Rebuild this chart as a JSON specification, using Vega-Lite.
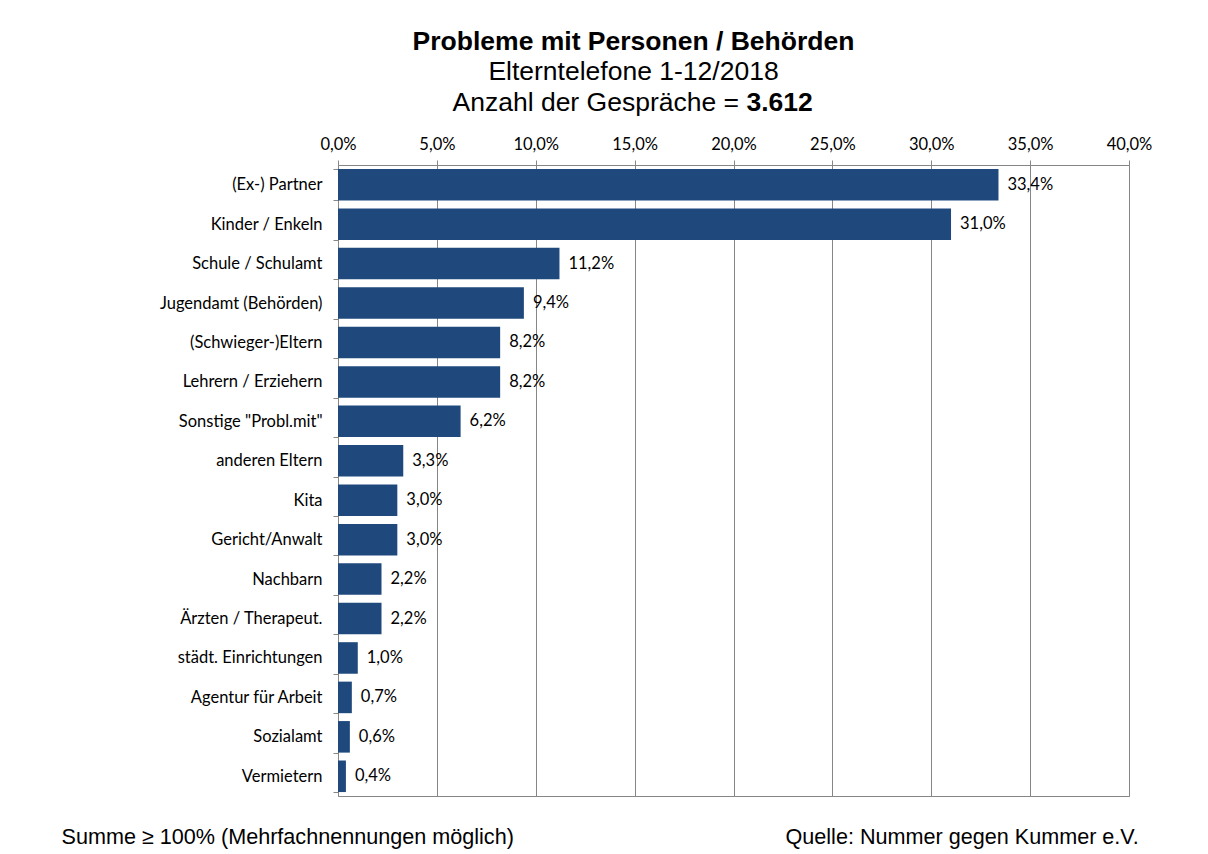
{
  "$schema": "https://vega.github.io/schema/vega-lite/v6.json",
  "width": 791,
  "height": 631,
  "autosize": {"type": "none"},
  "padding": {"left": 338, "top": 165, "right": 79, "bottom": 58},
  "background": "white",
  "title": {
    "text": "Probleme mit Personen / Behörden",
    "subtitle": "Elterntelefone 1-12/2018",
    "font": "Liberation Sans",
    "fontSize": 26.5,
    "fontWeight": "bold",
    "color": "black",
    "subtitleFont": "Liberation Sans",
    "subtitleFontSize": 26.5,
    "subtitleColor": "black",
    "subtitlePadding": 3,
    "anchor": "middle",
    "dx": -100,
    "offset": 4
  },
  "data": {
    "values": [
      {"kategorie": "(Ex-) Partner", "anteil": 0.334},
      {"kategorie": "Kinder / Enkeln", "anteil": 0.310},
      {"kategorie": "Schule / Schulamt", "anteil": 0.112},
      {"kategorie": "Jugendamt (Behörden)", "anteil": 0.094},
      {"kategorie": "(Schwieger-)Eltern", "anteil": 0.082},
      {"kategorie": "Lehrern / Erziehern", "anteil": 0.082},
      {"kategorie": "Sonstige \"Probl.mit\"", "anteil": 0.062},
      {"kategorie": "anderen Eltern", "anteil": 0.033},
      {"kategorie": "Kita", "anteil": 0.030},
      {"kategorie": "Gericht/Anwalt", "anteil": 0.030},
      {"kategorie": "Nachbarn", "anteil": 0.022},
      {"kategorie": "Ärzten / Therapeut.", "anteil": 0.022},
      {"kategorie": "städt. Einrichtungen", "anteil": 0.010},
      {"kategorie": "Agentur für Arbeit", "anteil": 0.007},
      {"kategorie": "Sozialamt", "anteil": 0.006},
      {"kategorie": "Vermietern", "anteil": 0.004}
    ]
  },
  "layer": [
    {
      "mark": {"type": "bar", "color": "#1F497D"},
      "encoding": {
        "y": {
          "field": "kategorie",
          "type": "nominal",
          "sort": null,
          "scale": {"paddingInner": 0.2, "paddingOuter": 0.1},
          "axis": {
            "orient": "left",
            "tickBand": "extent",
            "tickSize": 5,
            "tickColor": "#868686",
            "domain": false,
            "grid": false,
            "labelFont": "Lato",
            "labelFontSize": 16.5,
            "labelColor": "black",
            "labelPadding": 11,
            "title": "Summe ≥ 100% (Mehrfachnennungen möglich)",
            "titleAngle": 0,
            "titleX": -277,
            "titleY": 678,
            "titleAlign": "left",
            "titleBaseline": "alphabetic",
            "titleFont": "Liberation Sans",
            "titleFontSize": 21.6,
            "titleFontWeight": "normal",
            "titleColor": "black"
          }
        },
        "x": {
          "field": "anteil",
          "type": "quantitative",
          "scale": {"domain": [0, 0.4], "nice": false},
          "axis": {
            "orient": "top",
            "values": [0, 0.05, 0.1, 0.15, 0.2, 0.25, 0.3, 0.35, 0.4],
            "format": ".1%",
            "grid": true,
            "gridColor": "#868686",
            "tickColor": "#868686",
            "tickSize": 5,
            "domain": false,
            "labelFont": "Lato",
            "labelFontSize": 16.5,
            "labelColor": "black",
            "labelPadding": 8,
            "labelFlush": false,
            "title": "Anzahl der Gespräche = ",
            "titleFont": "Liberation Sans",
            "titleFontSize": 26.5,
            "titleFontWeight": "normal",
            "titleColor": "black",
            "titleX": 114,
            "titleY": -55,
            "titleAlign": "left",
            "titleBaseline": "alphabetic"
          }
        }
      }
    },
    {
      "mark": {"type": "text", "align": "left", "baseline": "middle", "dx": 9, "font": "Lato", "fontSize": 16.5, "color": "black"},
      "encoding": {
        "y": {
          "field": "kategorie",
          "type": "nominal",
          "sort": null,
          "scale": {"paddingInner": 0.2, "paddingOuter": 0.1},
          "axis": {
            "orient": "right",
            "labels": false,
            "ticks": false,
            "domain": false,
            "grid": false,
            "title": "Quelle: Nummer gegen Kummer e.V.",
            "titleAngle": 0,
            "titleX": -344,
            "titleY": 678,
            "titleAlign": "left",
            "titleBaseline": "alphabetic",
            "titleFont": "Liberation Sans",
            "titleFontSize": 21.6,
            "titleFontWeight": "normal",
            "titleColor": "black"
          }
        },
        "x": {
          "field": "anteil",
          "type": "quantitative",
          "scale": {"domain": [0, 0.4], "nice": false},
          "axis": {
            "orient": "bottom",
            "labels": false,
            "ticks": false,
            "domain": false,
            "grid": false,
            "title": "3.612",
            "titleFont": "Liberation Sans",
            "titleFontSize": 26.5,
            "titleFontWeight": "bold",
            "titleColor": "black",
            "titleX": 408,
            "titleY": -686,
            "titleAlign": "left",
            "titleBaseline": "alphabetic"
          }
        },
        "text": {"field": "anteil", "type": "quantitative", "format": ".1%"}
      }
    }
  ],
  "resolve": {
    "scale": {"x": "independent", "y": "independent"},
    "axis": {"x": "independent", "y": "independent"}
  },
  "config": {
    "locale": {"number": {"decimal": ",", "thousands": ".", "grouping": [3], "currency": ["", " €"]}},
    "view": {"stroke": "#868686"}
  }
}
